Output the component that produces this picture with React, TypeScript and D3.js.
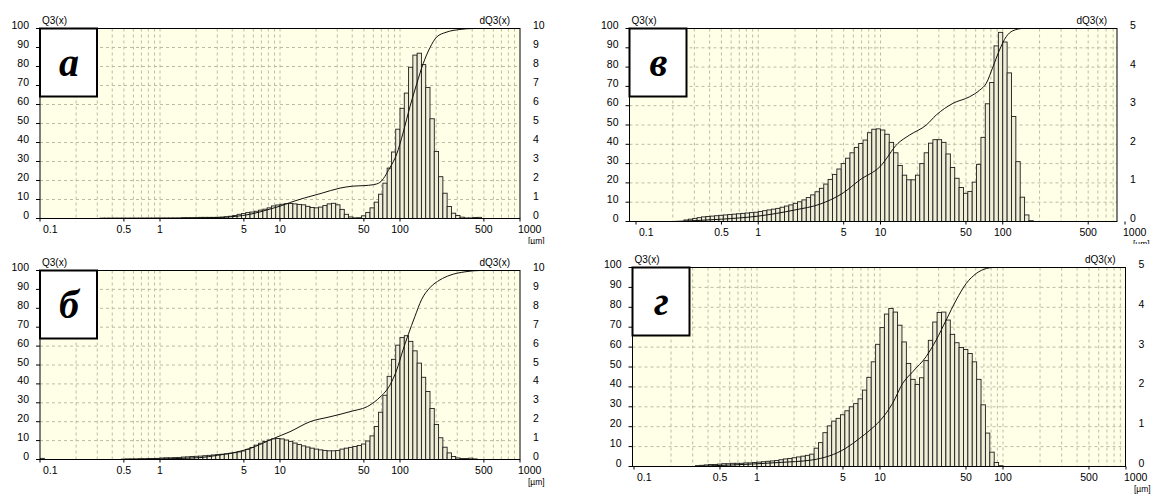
import React from "react";
import * as d3 from "d3";

// size class limits of one decade (28 classes per decade), repeated over 0.1 .. 1000 µm
const classSteps = [
  1.0, 1.0857, 1.1788, 1.2798, 1.3895, 1.5086, 1.6379, 1.7783, 1.9307, 2.0962,
  2.2758, 2.4709, 2.6827, 2.9126, 3.1623, 3.4333, 3.7276, 4.0471, 4.394, 4.7706,
  5.1795, 5.6234, 6.1054, 6.6287, 7.1969, 7.8138, 8.4834, 9.2106,
];
const decades = [0.1, 1, 10, 100];
const classEdges = [...decades.flatMap((d) => classSteps.map((s) => d * s)), 1000];

const xTickValues = [0.1, 0.5, 1, 5, 10, 50, 100, 500, 1000];
const xTickLabels = ["0.1", "0.5", "1", "5", "10", "50", "100", "500", "1000"];
const q3Ticks = [0, 10, 20, 30, 40, 50, 60, 70, 80, 90, 100];
const dq3TicksTen = [0, 1, 2, 3, 4, 5, 6, 7, 8, 9, 10];
const dq3TicksFive = [0, 1, 2, 3, 4, 5];
const letters = ["а", "б", "в", "г"];

// histogram dQ3 per class, first class index given by *Start
const barsAStart = 14;
const barsA = [
  0.02, 0.02, 0.02, 0.02, 0.02, 0.02, 0.02, 0.02, 0.02, 0.02, 0.02, 0.02, 0.02, 0.02, 0.02, 0.02, 0.02, 0.02, 0.02,
  0.04, 0.04, 0.04, 0.04, 0.06, 0.06, 0.06, 0.06, 0.06, 0.07, 0.09,
  0.12, 0.16, 0.22, 0.26, 0.31, 0.34, 0.38, 0.44, 0.49, 0.56, 0.66, 0.71, 0.75, 0.78, 0.79, 0.77, 0.74,
  0.72, 0.64, 0.58, 0.56, 0.6, 0.68, 0.77, 0.8, 0.72, 0.48, 0.22, 0.08, 0.03, 0.04, 0.14, 0.32, 0.56,
  0.86, 1.28, 1.86, 2.65, 3.5, 4.7, 5.8, 6.6, 7.96, 8.6, 8.7, 8.1, 6.9, 5.25, 3.53, 2.2, 1.33, 0.63,
  0.28, 0.16, 0.07, 0.03, 0.03, 0.05, 0.06,
];
const curveSizeA = [0.3, 1.5, 3.2, 5.6, 8.3, 10, 12, 16, 22, 31.6, 40, 50, 60, 68, 82, 94, 106, 121, 138, 156, 178, 202, 242, 316, 410, 500];
const curveQ3A = [0, 0.2, 0.6, 2.2, 5, 6.5, 8.3, 10.8, 13.2, 16, 17, 17.3, 17.8, 19, 26.5, 34, 45, 58.8, 71, 81.5, 90, 95.5, 98, 99.5, 100, 100];

const barsBStart = 0;
const barsB = [
  0.06, 0, 0, 0, 0, 0, 0, 0, 0, 0, 0, 0, 0, 0, 0, 0, 0, 0, 0,
  0.02, 0.03, 0.03, 0.03, 0.04, 0.04, 0.05, 0.05, 0.06, 0.08, 0.09, 0.09, 0.1, 0.11, 0.13, 0.14, 0.16,
  0.17, 0.18, 0.2, 0.22, 0.24, 0.26, 0.28, 0.3, 0.33, 0.36, 0.4, 0.45, 0.54, 0.64, 0.76, 0.86, 0.95,
  1.03, 1.09, 1.11, 1.09, 1.03, 0.96, 0.87, 0.79, 0.72, 0.66, 0.6, 0.55, 0.51, 0.48, 0.46, 0.46, 0.48,
  0.55, 0.6, 0.64, 0.69, 0.74, 0.82, 0.98, 1.25, 1.75, 2.5, 3.4, 4.4, 5.3, 6.05, 6.45, 6.55, 6.25,
  5.75, 5.1, 4.35, 3.6, 2.7, 1.85, 1.15, 0.65, 0.35, 0.16, 0.08, 0.05, 0.05, 0.07, 0.03,
];
const curveSizeB = [0.49, 1, 2.15, 3, 4.1, 5.6, 8.8, 12.1, 17.8, 26.1, 38.3, 56.2, 68.1, 82.5, 93.8, 106, 117, 133, 151, 178, 215, 261, 348, 464, 500];
const curveQ3B = [0, 0.3, 1, 2.2, 3.6, 5.8, 11.1, 14.7, 20, 22.6, 25.3, 28.8, 33, 39.4, 47.3, 58, 66, 75.6, 84.5, 91, 95, 97.5, 99.3, 100, 100];

const barsVStart = 11;
const barsV = [
  0.04, 0.06, 0.08, 0.1, 0.12, 0.13, 0.14, 0.15, 0.16, 0.17, 0.18, 0.19, 0.2, 0.21, 0.22, 0.23, 0.24,
  0.26, 0.28, 0.3, 0.32, 0.34, 0.37, 0.4, 0.43, 0.47, 0.51, 0.56, 0.62, 0.69, 0.77, 0.86, 0.97, 1.09,
  1.22, 1.36, 1.5, 1.64, 1.78, 1.92, 2.02, 2.11, 2.3, 2.39, 2.4, 2.37, 2.26, 2.05, 1.78, 1.45, 1.2,
  1.08, 1.08, 1.2, 1.5, 1.78, 2.03, 2.12, 2.12, 2.05, 1.75, 1.4, 1.12, 0.88, 0.73, 0.78, 1.02, 1.48,
  2.18, 3.05, 3.6, 4.55, 4.9, 4.65, 3.85, 2.72, 1.55, 0.63, 0.17, 0.02,
];
const curveSizeV = [0.2, 0.5, 1, 2, 3.2, 5, 6.8, 9.9, 13.9, 17.3, 23.7, 28.6, 39.1, 53.4, 64.6, 73.3, 83, 94, 106.6, 120.7, 145.7, 380];
const curveQ3V = [0, 1.2, 2.8, 6, 9, 15, 21.6, 28.4, 40.5, 44.8, 50, 55.2, 61.2, 64.6, 68, 71.6, 80, 88.8, 95.7, 98.8, 100, 100];

const barsGStart = 14;
const barsG = [
  0.02, 0.03, 0.04, 0.05, 0.05, 0.06, 0.07, 0.07, 0.08, 0.08, 0.08, 0.09, 0.09, 0.1, 0.11, 0.12, 0.13,
  0.14, 0.15, 0.17, 0.19, 0.2, 0.22, 0.24, 0.26, 0.28, 0.31, 0.46, 0.6, 0.85, 1.02, 1.14, 1.21, 1.3,
  1.4, 1.5, 1.58, 1.7, 1.92, 2.24, 2.63, 3.07, 3.49, 3.83, 3.97, 3.88, 3.55, 3.13, 2.59, 2.19, 2.06,
  2.23, 2.66, 3.17, 3.63, 3.87, 3.88, 3.68, 3.32, 3.11, 2.99, 2.94, 2.84, 2.63, 2.19, 1.55, 0.84, 0.36,
  0.1, 0.02,
];
const curveSizeG = [0.306, 0.59, 1.5, 2.82, 5.28, 6.78, 8.18, 10, 12.67, 15.3, 18.5, 23.7, 28.6, 34.5, 41.6, 50.3, 60.6, 73.3, 83, 450];
const curveQ3G = [0, 0.7, 2, 3.3, 9.2, 14, 18, 23, 31.8, 41.8, 47.7, 55.2, 63.5, 73.6, 83.6, 92, 97, 99.5, 100, 100];

type PanelSpec = {
  id: string;
  letter: string;
  x0: number; x1: number; // axis range of 0.1 .. 1000
  fl: number; fr: number; // frame left / right
  top: number; bottom: number;
  dqTicks: number[];
  start: number; bars: number[];
  sizes: number[]; q3: number[];
};

const font = "'Liberation Sans', Arial, sans-serif";

const Panel = ({ p }: { p: PanelSpec }) => {
  const x = d3.scaleLog().domain([0.1, 1000]).range([p.x0, p.x1]);
  const yQ = d3.scaleLinear().domain([0, 100]).range([p.bottom, p.top]);
  const yD = d3.scaleLinear().domain([0, d3.max(p.dqTicks)!]).range([p.bottom, p.top]);
  const grid = x.ticks().filter((t) => t > 0.1001 && t < 999);
  const curve = d3
    .line<number>()
    .x((_, k) => x(p.sizes[k]))
    .y((d) => yQ(d))
    .curve(d3.curveMonotoneX);
  const clip = `clip-${p.id}`;
  const last = xTickValues.length - 1;

  return (
    <g>
      <defs>
        <clipPath id={clip}>
          <rect x={p.fl} y={p.top} width={p.fr - p.fl} height={p.bottom - p.top} />
        </clipPath>
      </defs>
      <rect x={p.fl} y={p.top} width={p.fr - p.fl} height={p.bottom - p.top} fill="#fffee6" />
      <g clipPath={`url(#${clip})`}>
        {grid.map((t, k) => (
          <line key={"v" + k} x1={x(t)} x2={x(t)} y1={p.top} y2={p.bottom}
            stroke="#bcbca4" strokeDasharray="3,3" strokeWidth={1} />
        ))}
        {q3Ticks.slice(1, -1).map((t) => (
          <line key={"h" + t} x1={p.fl} x2={p.fr} y1={yQ(t)} y2={yQ(t)}
            stroke="#bcbca4" strokeDasharray="3,3" strokeWidth={1} />
        ))}
        {p.bars.map((v, k) => {
          if (v <= 0) return null;
          const i = p.start + k;
          const xa = x(classEdges[i]);
          const xb = x(classEdges[i + 1]);
          return (
            <rect key={"b" + k} x={xa} y={yD(v)} width={xb - xa} height={p.bottom - yD(v)}
              fill="#efefd8" stroke="#1e1e1e" strokeWidth={0.9} />
          );
        })}
        <path d={curve(p.q3) || ""} fill="none" stroke="#111" strokeWidth={1} />
      </g>
      <rect x={p.fl} y={p.top} width={p.fr - p.fl} height={p.bottom - p.top}
        fill="none" stroke="#000" strokeWidth={1} />
      {q3Ticks.map((t) => (
        <g key={"q" + t}>
          <line x1={p.fl - 4} x2={p.fl} y1={yQ(t)} y2={yQ(t)} stroke="#000" />
          <text x={p.fl - 11} y={yQ(t) + 0.5} textAnchor="end" fontSize={10.5} fontFamily={font}>{t}</text>
        </g>
      ))}
      {p.dqTicks.map((t) => (
        <text key={"d" + t} x={p.fr + 13} y={yD(t) + 0.5} fontSize={10.5} fontFamily={font}>{t}</text>
      ))}
      {xTickValues.map((t, k) => (
        <g key={"x" + t}>
          <line x1={x(t)} x2={x(t)} y1={p.bottom} y2={p.bottom + 3} stroke="#000" />
          <text x={k === 0 ? x(t) + 3 : k === last ? x(t) - 2 : x(t)} y={p.bottom + 14}
            textAnchor={k === 0 || k === last ? "start" : "middle"} fontSize={10.5} fontFamily={font}>
            {xTickLabels[k]}
          </text>
        </g>
      ))}
      <text x={x(1000) + 8} y={p.bottom + 25} fontSize={8.5} fontFamily={font}>[µm]</text>
      <text x={p.fl + 2} y={p.top - 5} fontSize={10} fontFamily={font}>Q3(x)</text>
      <text x={p.fr - 10} y={p.top - 5} textAnchor="end" fontSize={10} fontFamily={font}>dQ3(x)</text>
      <rect x={p.fl} y={p.top} width={57} height={68} fill="#fff" stroke="#000" strokeWidth={2} />
      <text x={p.fl + 29} y={p.top + 47} textAnchor="middle" fontSize={40} fontWeight="bold"
        fontStyle="italic" fontFamily="'Liberation Serif', 'Times New Roman', serif">
        {p.letter}
      </text>
    </g>
  );
};

const panels: PanelSpec[] = [
  { id: "a", letter: letters[0], x0: 40, x1: 520, fl: 40, fr: 520, top: 28.5, bottom: 218.5,
    dqTicks: dq3TicksTen, start: barsAStart, bars: barsA, sizes: curveSizeA, q3: curveQ3A },
  { id: "v", letter: letters[2], x0: 636, x1: 1125, fl: 629.5, fr: 1117, top: 28.5, bottom: 221.5,
    dqTicks: dq3TicksFive, start: barsVStart, bars: barsV, sizes: curveSizeV, q3: curveQ3V },
  { id: "b", letter: letters[1], x0: 40, x1: 520, fl: 40, fr: 520, top: 270.5, bottom: 459.5,
    dqTicks: dq3TicksTen, start: barsBStart, bars: barsB, sizes: curveSizeB, q3: curveQ3B },
  { id: "g", letter: letters[3], x0: 634, x1: 1126, fl: 632.5, fr: 1125.5, top: 267.5, bottom: 466.5,
    dqTicks: dq3TicksFive, start: barsGStart, bars: barsG, sizes: curveSizeG, q3: curveQ3G },
];

export default function App() {
  return (
    <svg width={1156} height={494} style={{ position: "absolute", left: 0, top: 0, background: "#fff" }}>
      <defs>
        <clipPath id="top-row">
          <rect x={0} y={0} width={1156} height={244} />
        </clipPath>
      </defs>
      <g clipPath="url(#top-row)">
        <Panel p={panels[0]} />
        <Panel p={panels[1]} />
      </g>
      <Panel p={panels[2]} />
      <Panel p={panels[3]} />
    </svg>
  );
}
